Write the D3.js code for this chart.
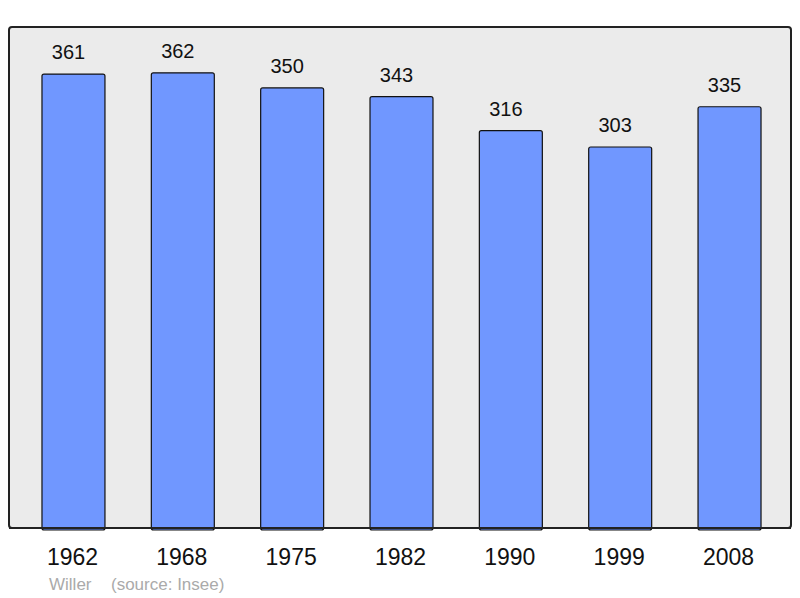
<!DOCTYPE html>
<html>
<head>
<meta charset="utf-8">
<script src="https://cdn.jsdelivr.net/npm/d3@7"></script>
<style>
  body { margin: 0; background: #fff; }
  text { font-family: "Liberation Sans", Arial, sans-serif; }
</style>
</head>
<body>
<svg id="chart" width="800" height="598"></svg>
<script>
// population by census year
const years = ['1962', '1968', '1975', '1982', '1990', '1999', '2008'];
const population = [361, 362, 350, 343, 316, 303, 335];
const yDomain = [0, 400];

const svg = d3.select('#chart');

const xScale = d3.scaleBand()
    .domain(years)
    .range([18.8, 784.2])
    .paddingInner(0.424)
    .paddingOuter(0.212);

const yScale = d3.scaleLinear()
    .domain(yDomain)
    .range([528, 25]);

// panel
svg.append('rect')
    .attr('x', 9)
    .attr('y', 27)
    .attr('width', 782)
    .attr('height', 501)
    .attr('rx', 3)
    .attr('fill', '#ebebeb')
    .attr('stroke', '#222')
    .attr('stroke-width', 2);

const data = years.map((y, i) => ({year: y, value: population[i]}));

svg.selectAll('.bar')
    .data(data)
    .enter()
    .append('rect')
        .classed('bar', true)
        .attr('x', d => xScale(d.year))
        .attr('y', d => yScale(d.value))
        .attr('width', xScale.bandwidth())
        .attr('height', d => yScale(0) - yScale(d.value) + 2)
        .attr('rx', 2)
        .attr('fill', '#7097ff')
        .attr('stroke', '#111')
        .attr('stroke-width', 1.2);

// redraw bottom border over the bars
svg.append('line')
    .attr('x1', 9).attr('x2', 791)
    .attr('y1', 528).attr('y2', 528)
    .attr('stroke', '#222')
    .attr('stroke-width', 2);

// value labels sit a bit left of the bar centre in the original
svg.selectAll('.val')
    .data(data)
    .enter()
    .append('text')
        .classed('val', true)
        .attr('x', d => xScale(d.year) + xScale.bandwidth() / 2 - 5)
        .attr('y', d => yScale(d.value) - 15)
        .attr('text-anchor', 'middle')
        .attr('font-size', 20)
        .attr('fill', '#111')
        .text(d => d.value);

svg.selectAll('.year')
    .data(years)
    .enter()
    .append('text')
        .classed('year', true)
        .attr('x', d => xScale(d) + xScale.bandwidth() / 2 - 1)
        .attr('y', 565)
        .attr('text-anchor', 'middle')
        .attr('font-size', 23)
        .attr('fill', '#111')
        .text(d => d);

svg.append('text')
    .attr('x', 49)
    .attr('y', 590)
    .attr('font-size', 17)
    .attr('fill', '#aaa')
    .text('Willer');

svg.append('text')
    .attr('x', 111)
    .attr('y', 590)
    .attr('font-size', 17)
    .attr('fill', '#aaa')
    .text('(source: Insee)');
</script>
</body>
</html>
